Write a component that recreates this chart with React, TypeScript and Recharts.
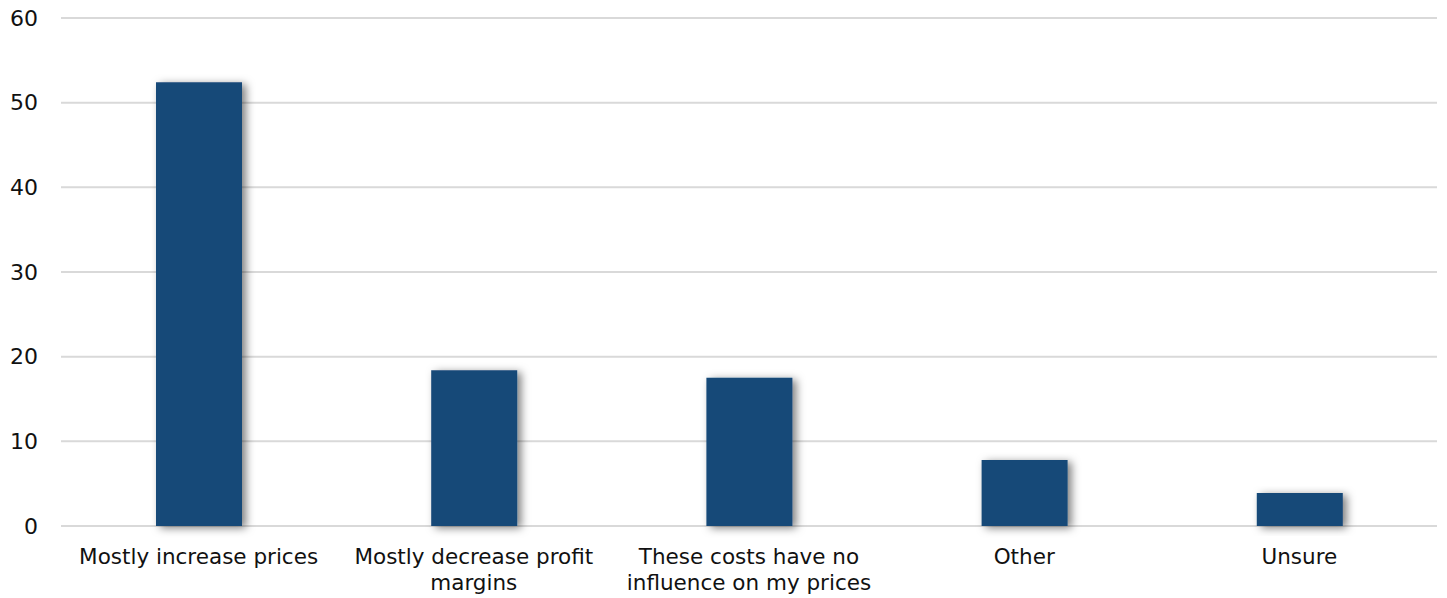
import { BarChart, Bar, XAxis, YAxis, CartesianGrid } from "recharts"

const categories = [
  "Mostly increase prices",
  "Mostly decrease profit margins",
  "These costs have no influence on my prices",
  "Other",
  "Unsure",
]

// how each category label is broken into lines under the axis
const tickLines = [
  ["Mostly increase prices"],
  ["Mostly decrease profit", "margins"],
  ["These costs have no", "influence on my prices"],
  ["Other"],
  ["Unsure"],
]

const shares = [52.4, 18.4, 17.5, 7.8, 3.9]

const yTicks = [0, 10, 20, 30, 40, 50, 60]

const data = categories.map((name, i) => ({ name, value: shares[i] }))

const FONT = "'DejaVu Sans', sans-serif"

function CategoryTick(props: any) {
  const { x, y, payload } = props
  const idx = categories.indexOf(payload.value)
  const lines = idx >= 0 ? tickLines[idx] : [payload.value]
  return (
    <text x={x} y={y} textAnchor="middle" fill="#111" fontSize={21.5} fontFamily={FONT}>
      {lines.map((line, i) => (
        <tspan key={i} x={x} dy={i === 0 ? 30 : 26}>
          {line}
        </tspan>
      ))}
    </text>
  )
}

export default function App() {
  return (
    <div style={{ position: "absolute", left: 0, top: 0, background: "#fff" }}>
      <BarChart
        width={1447}
        height={598}
        data={data}
        margin={{ top: 18, right: 10, bottom: 0, left: 0 }}
        barCategoryGap={0}
      >
        <defs>
          <filter id="barShadow" x="-20%" y="-20%" width="150%" height="150%">
            <feDropShadow dx={4} dy={2} stdDeviation={4} floodColor="#000" floodOpacity={0.5} />
          </filter>
        </defs>
        <CartesianGrid vertical={false} stroke="#d9d9d9" strokeWidth={2} />
        <XAxis
          dataKey="name"
          axisLine={false}
          tickLine={false}
          height={72}
          interval={0}
          tick={<CategoryTick />}
        />
        <YAxis
          domain={[0, 60]}
          ticks={yTicks}
          width={61}
          axisLine={false}
          tickLine={false}
          tickMargin={17}
          tick={{ fill: "#111", fontSize: 22, fontFamily: FONT }}
        />
        <Bar
          dataKey="value"
          fill="#174878"
          barSize={86}
          filter="url(#barShadow)"
          isAnimationActive={false}
        />
      </BarChart>
    </div>
  )
}
